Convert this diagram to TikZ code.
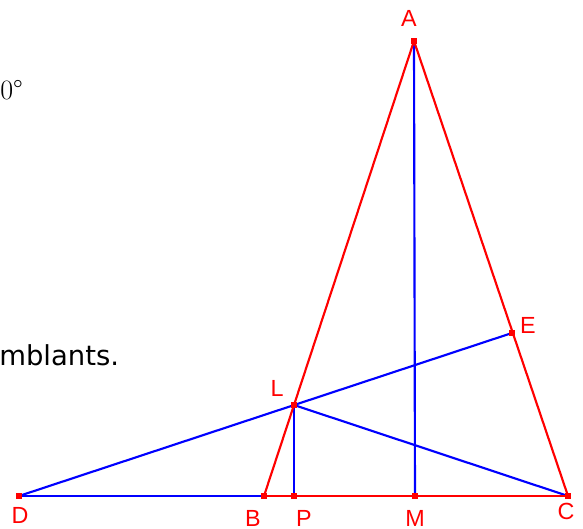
\documentclass[tikz,border=0pt]{standalone}
\usepackage{fontspec}
\setmainfont{Latin Modern Roman}
\newfontfamily\labfont{Liberation Sans}
\newfontfamily\txtfont{DejaVu Sans}
\begin{document}
\begin{tikzpicture}[x=0.75pt,y=-0.75pt,
  redl/.style={draw=red,line width=1.6pt},
  bluel/.style={draw=blue,line width=1.6pt},
  pt/.style={fill=red,minimum size=4pt,inner sep=0pt,rectangle},
  lab/.style={text=red,font=\labfont\fontsize{17.5}{20}\selectfont,inner sep=0pt}]
\useasboundingbox (0,0) rectangle (583,529);
\clip (0,0) rectangle (583,529);
\coordinate (A) at (414,41);
\coordinate (B) at (264,496);
\coordinate (P) at (294,496);
\coordinate (M) at (415,496);
\coordinate (C) at (568,496);
\coordinate (D) at (19,496);
\coordinate (L) at (294,405);
\coordinate (E) at (512,333);
% texts
\node[anchor=base west,inner sep=0pt,font=\fontsize{21}{24}\selectfont] (t1) at (0,99) {0°};
\node[anchor=base west,inner sep=0pt,font=\txtfont\fontsize{20.6}{24}\selectfont] (t2) at (-1,365) {mblants.};
% lines
\draw[bluel] (D) -- (B);
\draw[bluel] (A) -- (M);
\draw[bluel] (D) -- (E);
\draw[bluel] (L) -- (C);
\draw[bluel] (L) -- (P);
\draw[redl] (A) -- (B);
\draw[redl] (A) -- (C);
\draw[redl] (B) -- (C);
\foreach \p in {A,B,P,M,C,D,L,E} \node[pt] at (\p) {};
% labels
\node[lab] (lA) at (409,18) {A};
\node[lab] (lD) at (20,515) {D};
\node[lab] (lB) at (253,518) {B};
\node[lab] (lP) at (304,518) {P};
\node[lab] (lM) at (415,518) {M};
\node[lab] (lC) at (566,511) {C};
\node[lab] (lL) at (277,388) {L};
\node[lab] (lE) at (528,325) {E};
\end{tikzpicture}
\end{document}
